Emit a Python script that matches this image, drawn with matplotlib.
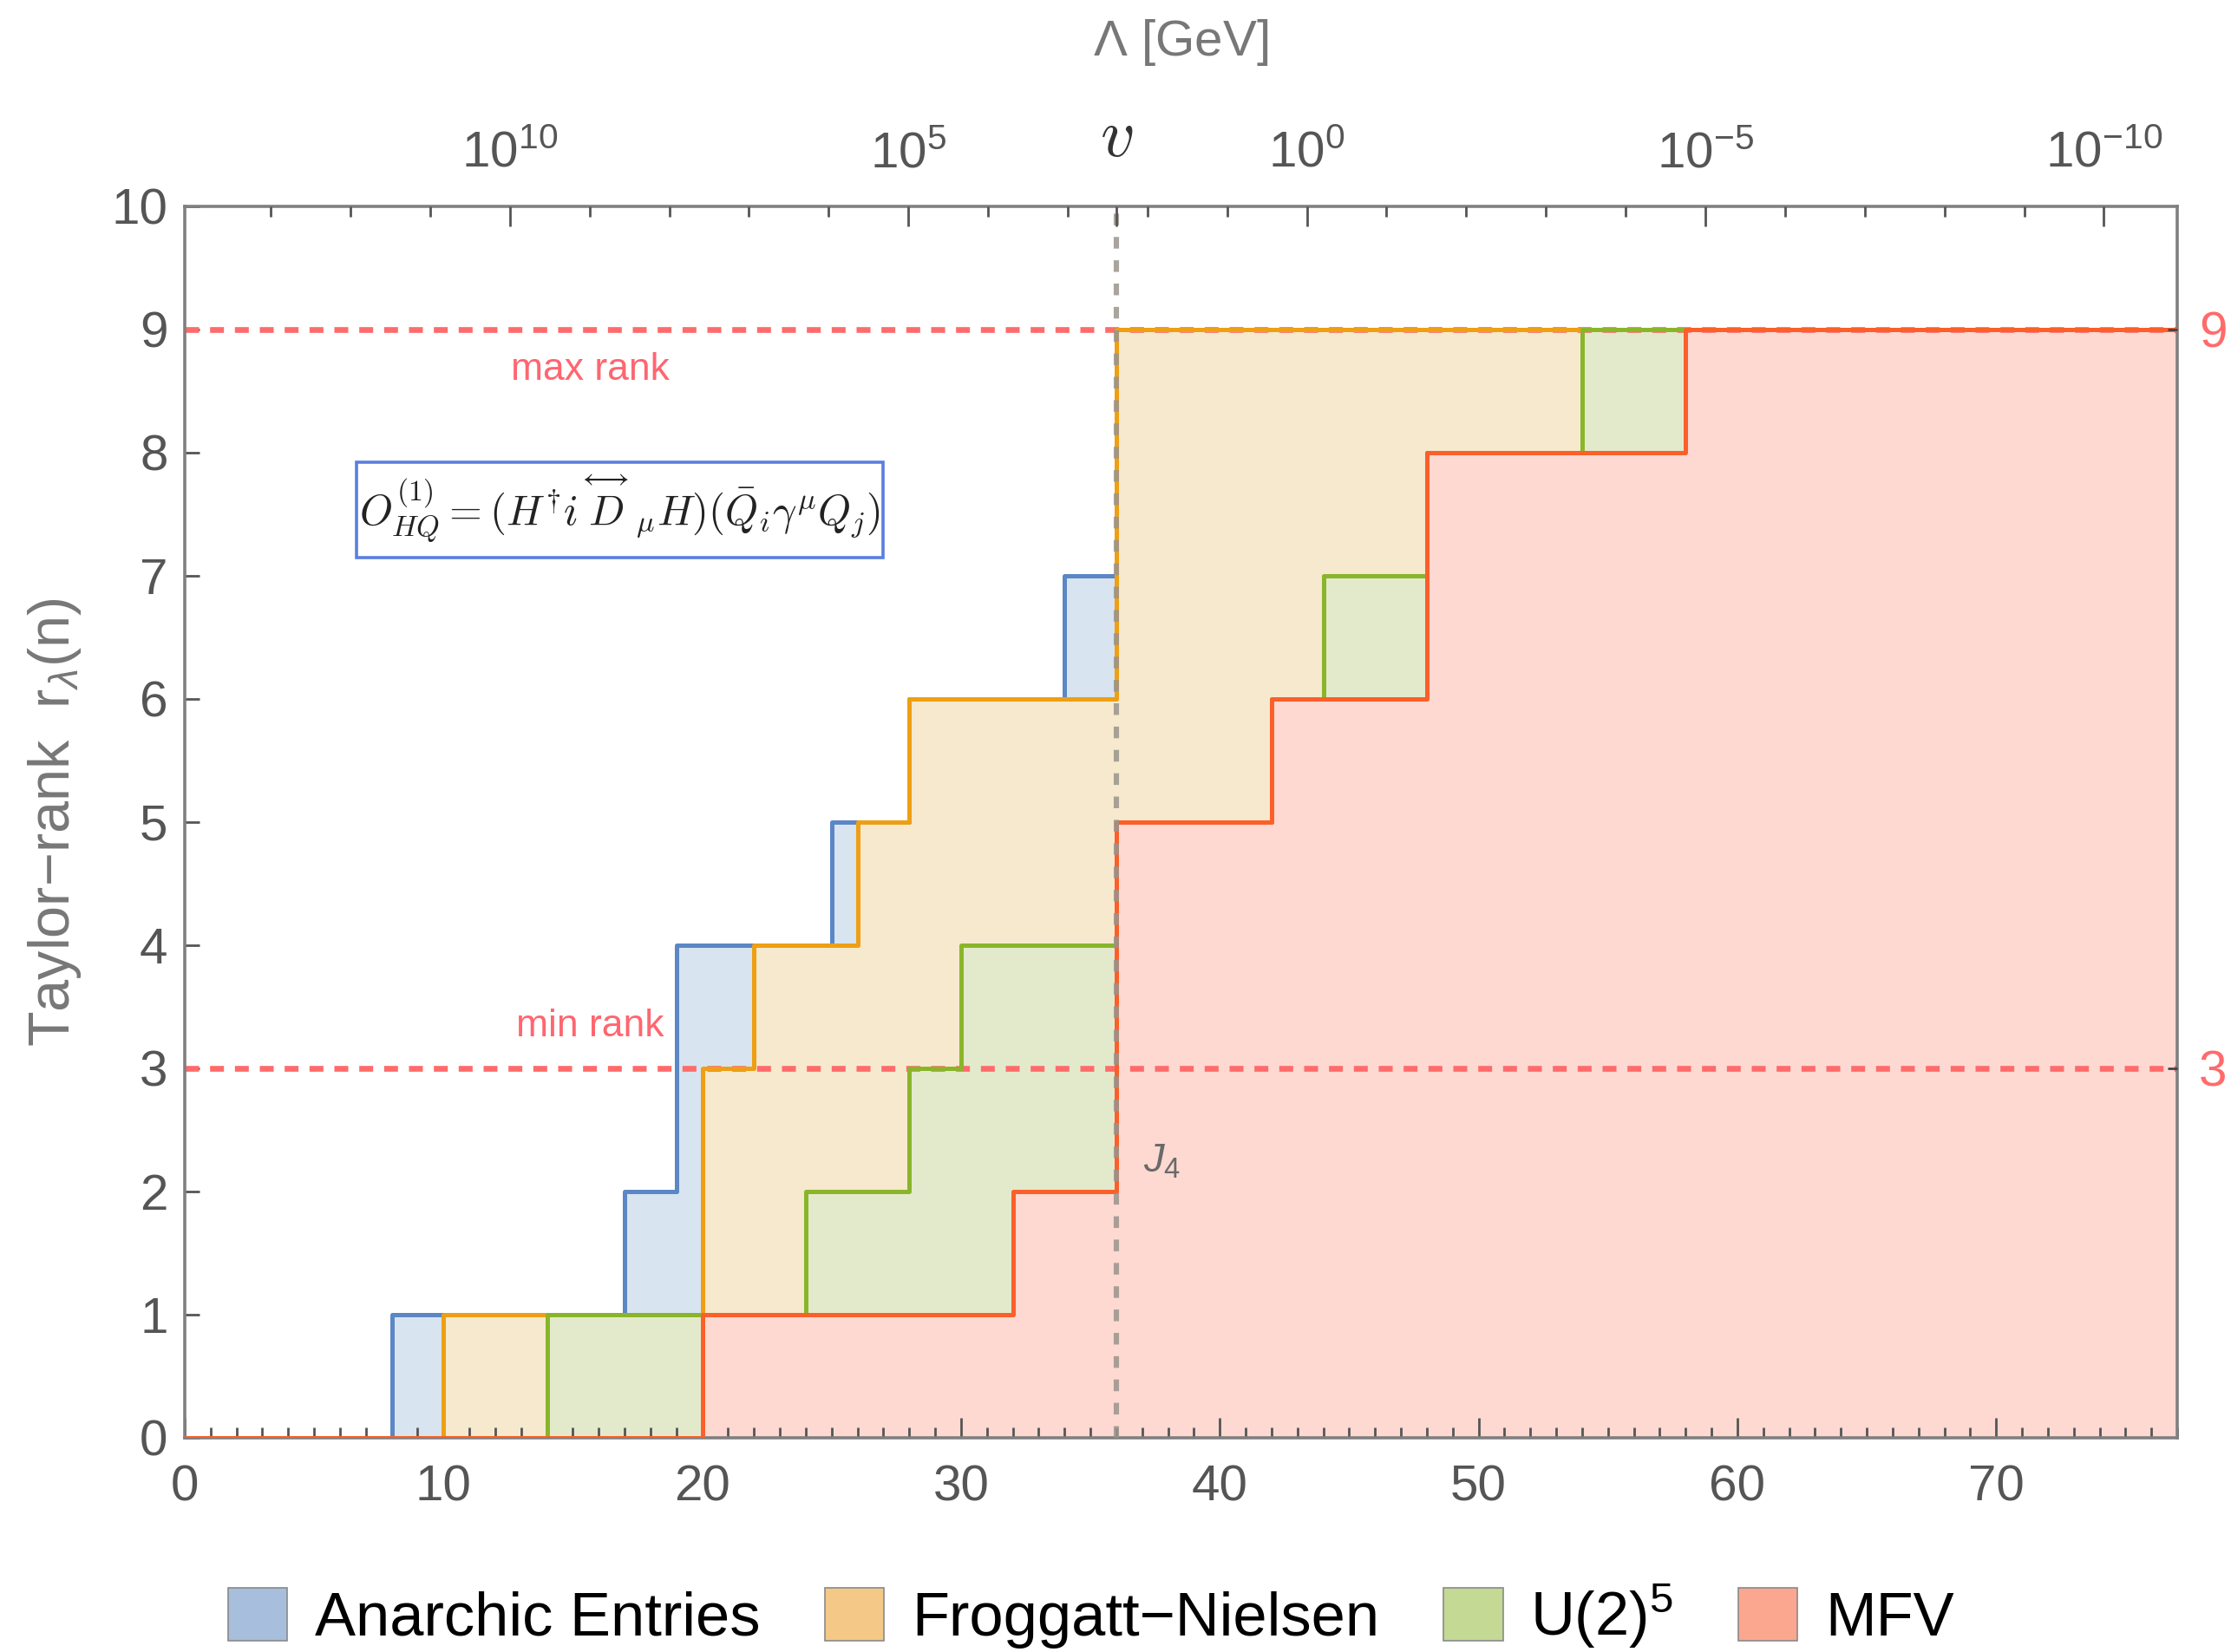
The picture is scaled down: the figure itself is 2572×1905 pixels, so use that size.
import numpy as np
import matplotlib.pyplot as plt
from matplotlib.patches import Patch, Rectangle

plt.rcParams["font.family"] = ["Liberation Sans", "DejaVu Sans"]
plt.rcParams["mathtext.fontset"] = "custom"
plt.rcParams["mathtext.rm"] = "Liberation Sans"
plt.rcParams["mathtext.it"] = "Liberation Sans:italic"

# step functions: rank r(n) starting at each breakpoint n
anarchic_n = [0, 8, 17, 19, 25, 28, 34, 36, 77]
anarchic_r = [0, 1, 2, 4, 5, 6, 7, 9, 9]
fn_n = [0, 10, 20, 22, 26, 28, 36, 77]
fn_r = [0, 1, 3, 4, 5, 6, 9, 9]
u2_n = [0, 14, 24, 28, 30, 36, 42, 44, 48, 54, 77]
u2_r = [0, 1, 2, 3, 4, 5, 6, 7, 8, 9, 9]
mfv_n = [0, 20, 32, 36, 42, 48, 58, 77]
mfv_r = [0, 1, 2, 5, 6, 8, 9, 9]

labels = ["Anarchic Entries", "Froggatt\u2212Nielsen", r"U(2)$^5$", "MFV"]
line_colors = ["#5b87c5", "#ee9f14", "#8ab52a", "#fb5f2a"]
fill_colors = ["#d8e4f0", "#f6e9cd", "#e3eacc", "#fdd9d2"]
legend_colors = ["#a7bedd", "#f4c987", "#c3d994", "#fba78f"]

max_rank = 9
min_rank = 3
n_ew = 36  # position of the electroweak scale v

# upper axis: Lambda [GeV]
v_gev = 246.0
per_decade = 3.08
top_major = [10, 5, 0, -5, -10]
top_minor = list(range(13, -11, -1))

fig = plt.figure(figsize=(12.86, 9.525), dpi=200)
ax = fig.add_axes([0.0828, 0.1297, 0.8931, 0.7454])

series = [(anarchic_n, anarchic_r), (fn_n, fn_r), (u2_n, u2_r), (mfv_n, mfv_r)]
for i, (n, r) in enumerate(series):
    ax.fill_between(n, r, step="post", color=fill_colors[i], lw=0, zorder=1 + 0.1 * i)
for i, (n, r) in enumerate(series):
    ax.step(n, r, where="post", color=line_colors[i], lw=1.8, zorder=10 + i)

# rank limits
for yv in (max_rank, min_rank):
    ax.axhline(yv, color="#ff6b6b", lw=2.4, ls=(0, (2.4, 1.9)), zorder=2)
ax.text(15.66, 8.67, "max rank", color="#ff6670", fontsize=16, ha="center", va="center")
ax.text(15.66, 3.34, "min rank", color="#ff6670", fontsize=16, ha="center", va="center")

# electroweak scale
ax.axvline(n_ew, color="#9a948c", lw=2.2, ls=(0, (2.2, 2.2)), alpha=0.85, zorder=20)
ax.text(37.75, 2.24, r"$J_4$", color="#6a6a6a", fontsize=17, ha="center", va="center", zorder=30)

# operator box
ax.add_patch(Rectangle((6.65, 7.15), 20.35, 0.77, fill=False, ec="#5a7fe0", lw=1.3, zorder=25))
ax.text(16.8, 7.54,
        r"$O^{(1)}_{HQ} = (H^{\dagger} i \overset{\longleftrightarrow}{D}_{\mu} H)(\bar{Q}_i \gamma^{\mu} Q_j)$",
        math_fontfamily="cm", fontsize=17.5, ha="center", va="center", color="#222222", zorder=26)

ax.set_xlim(0, 77)
ax.set_ylim(0, 10)
ax.set_xticks(np.arange(0, 80, 10))
ax.set_xticks(np.arange(0, 78, 1), minor=True)
ax.set_yticks(np.arange(0, 11, 1))
ax.tick_params(axis="x", which="major", direction="in", length=8.3, width=1, color="#555555",
               labelsize=21, labelcolor="#555555", pad=11, top=False)
ax.tick_params(axis="x", which="minor", direction="in", length=4.3, width=1, color="#555555", top=False)
ax.tick_params(axis="y", which="major", direction="in", length=6, width=1, color="#555555",
               labelsize=21, labelcolor="#555555", pad=7, right=False)
for s in ax.spines.values():
    s.set_color("#808080")
    s.set_linewidth(1.3)
ax.set_ylabel(r"Taylor$-$rank  r$_{\lambda}$(n)", fontsize=24, color="#777777")
ax.yaxis.set_label_coords(-0.051, 0.5)

# top axis
top = ax.twiny()
top.set_xlim(ax.get_xlim())
major_pos = [n_ew + (np.log10(v_gev) - k) * per_decade for k in top_major]
minor_pos = [n_ew + (np.log10(v_gev) - k) * per_decade for k in top_minor]
minor_pos = [p for p in minor_pos if 0 < p < 77]
top.set_xticks(major_pos + [n_ew])
top.set_xticklabels([r"$10^{%d}$" % k for k in top_major] + [""])
top.set_xticks(minor_pos, minor=True)
top.tick_params(axis="x", which="major", direction="in", length=8.3, width=1, color="#555555",
                labelsize=21, labelcolor="#555555", pad=12)
top.tick_params(axis="x", which="minor", direction="in", length=4.3, width=1, color="#555555")
top.set_xlabel(r"$\Lambda$ [GeV]", fontsize=21, color="#777777", labelpad=31)
for s in top.spines.values():
    s.set_visible(False)
top.text(n_ew, 1.055, r"$v$", transform=top.get_xaxis_transform(), math_fontfamily="cm",
         fontsize=28, ha="center", va="center", color="#333333")

# right axis with the rank limits
right = ax.twinx()
right.set_ylim(ax.get_ylim())
right.set_yticks([min_rank, max_rank])
right.tick_params(axis="y", direction="in", length=4, width=1, color="#444444",
                  labelsize=21, labelcolor="#ff6b6b", pad=9)
for s in right.spines.values():
    s.set_visible(False)

handles = [Patch(facecolor=legend_colors[i], edgecolor="#8a8a8a", lw=0.6) for i in range(4)]
fig.legend(handles, labels, loc="center", bbox_to_anchor=(0.489, 0.022), ncol=4, frameon=False,
           fontsize=25.4, handlelength=0.97, handleheight=0.97, handletextpad=0.45, columnspacing=1.05)

fig.savefig("out.png", dpi=200)
